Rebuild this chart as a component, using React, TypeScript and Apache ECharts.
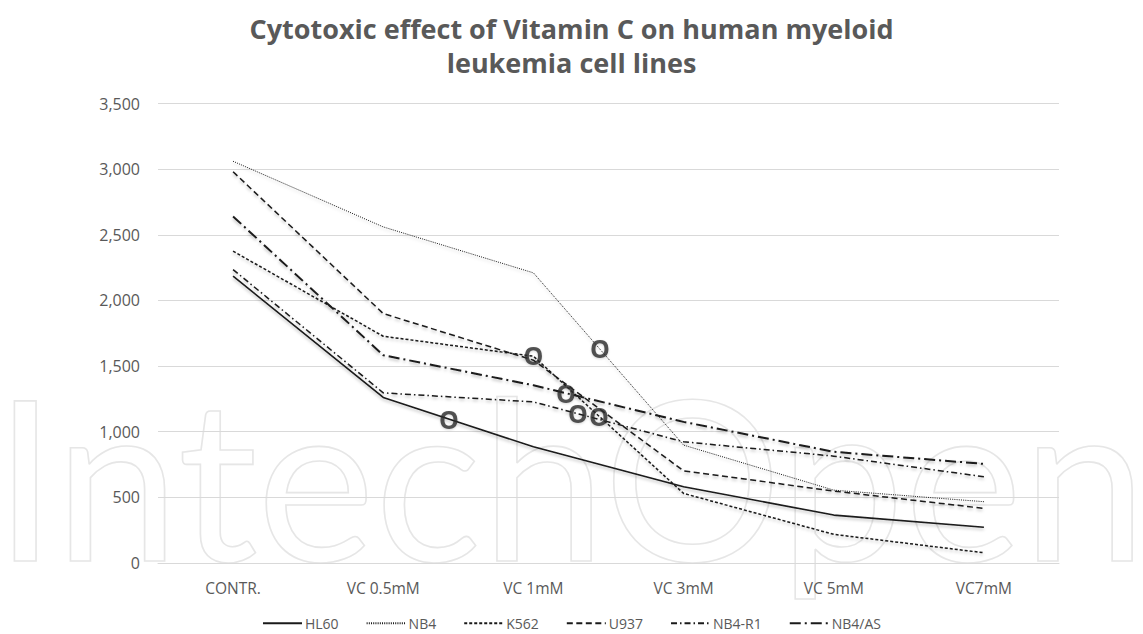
import React, { useEffect, useRef } from "react";
import * as echarts from "echarts";

const categories = ["CONTR.", "VC 0.5mM", "VC 1mM", "VC 3mM", "VC 5mM", "VC7mM"];
const hl60 = [2185, 1261, 885, 581, 365, 272];
const nb4 = [3060, 2560, 2210, 898, 555, 467];
const k562 = [2375, 1727, 1575, 530, 218, 78];
const u937 = [2980, 1900, 1545, 702, 548, 416];
const nb4r1 = [2235, 1296, 1227, 923, 814, 657];
const nb4as = [2640, 1583, 1354, 1075, 847, 755];

// significance markers "O" (x as fractional category index, y as value)
const annotX = [1.438, 2.0, 2.443, 2.217, 2.297, 2.437];
const annotY = [1096, 1583, 1636, 1293, 1141, 1118];

const seriesDefs = [
  { name: "HL60", data: hl60, dash: "solid" as any, width: 1.6 },
  { name: "NB4", data: nb4, dash: [1, 1.2], width: 1 },
  { name: "K562", data: k562, dash: [3, 2], width: 1.5 },
  { name: "U937", data: u937, dash: [6, 3.5], width: 1.5 },
  { name: "NB4-R1", data: nb4r1, dash: [6, 3, 1.5, 3], width: 1.5 },
  { name: "NB4/AS", data: nb4as, dash: [11, 4, 2, 4], width: 2 },
];

const FONT = "'Open Sans', 'Noto Sans', sans-serif";

export default function App() {
  const ref = useRef<HTMLDivElement>(null);
  useEffect(() => {
    if (!ref.current) return;
    const chart = echarts.init(ref.current, null, { renderer: "svg" });
    const lineSeries = seriesDefs.map((s) => ({
      name: s.name,
      type: "line",
      data: s.data,
      symbol: "none",
      xAxisIndex: 0,
      yAxisIndex: 0,
      z: 3,
      lineStyle: {
        color: "#1a1a1a",
        width: s.width,
        type: s.dash,
        shadowColor: "rgba(0,0,0,0.25)",
        shadowBlur: 3,
        shadowOffsetY: 2,
      },
      itemStyle: { color: "#1a1a1a" },
    }));
    chart.setOption({
      animation: false,
      backgroundColor: "#ffffff",
      title: {
        text: "Cytotoxic effect of Vitamin C on human myeloid\nleukemia cell lines",
        left: "center",
        top: 6,
        textStyle: {
          fontFamily: FONT,
          fontWeight: "bold",
          fontSize: 27,
          lineHeight: 34,
          color: "#595959",
        },
      },
      graphic: [
        {
          type: "text",
          silent: true,
          z: -10,
          style: {
            text: "IntechOpen",
            x: -6,
            y: 586,
            fontFamily: "Lato, sans-serif",
            fontSize: 223,
            fontWeight: "normal",
            fill: "rgba(255,255,255,0)",
            stroke: "#e6e6e6",
            lineWidth: 1.6,
            verticalAlign: "bottom",
          },
        },
      ],
      legend: {
        top: 611,
        left: "center",
        itemWidth: 39,
        itemHeight: 18,
        itemGap: 27,
        itemStyle: { opacity: 0 },
        data: seriesDefs.map((s) => s.name),
        textStyle: { fontFamily: FONT, fontSize: 14, color: "#595959", padding: [0, 0, 0, -2] },
      },
      grid: { left: 158, right: 84, top: 103.5, bottom: 71 },
      xAxis: [
        {
          type: "category",
          data: categories,
          boundaryGap: true,
          axisLine: { show: true, lineStyle: { color: "#d9d9d9", width: 1 } },
          axisTick: { show: false },
          axisLabel: { fontFamily: FONT, fontSize: 15.5, color: "#595959", margin: 17 },
        },
        {
          type: "value",
          min: -0.5,
          max: 5.5,
          show: false,
        },
      ],
      yAxis: {
        type: "value",
        min: 0,
        max: 3500,
        interval: 500,
        axisLine: { show: false },
        axisTick: { show: false },
        splitLine: { lineStyle: { color: "#d9d9d9", width: 1 } },
        axisLabel: {
          fontFamily: FONT,
          fontSize: 16,
          color: "#595959",
          margin: 18,
          formatter: (v: number) => v.toLocaleString("en-US"),
        },
      },
      series: [
        ...lineSeries,
        {
          name: "markers",
          type: "scatter",
          xAxisIndex: 1,
          yAxisIndex: 0,
          z: 5,
          symbolSize: 1,
          itemStyle: { color: "rgba(0,0,0,0)" },
          data: annotX.map((x, i) => [x, annotY[i]]),
          label: {
            show: true,
            position: "inside",
            formatter: "O",
            fontFamily: FONT,
            fontWeight: "bold",
            fontSize: 25,
            color: "#2b2b2b",
            textShadowColor: "rgba(0,0,0,0.2)",
            textShadowBlur: 2,
            textShadowOffsetY: 1,
          },
        },
      ],
    });
    return () => chart.dispose();
  }, []);
  return (
    <div
      ref={ref}
      style={{ position: "fixed", left: 0, top: 0, width: 1143, height: 634 }}
    />
  );
}
